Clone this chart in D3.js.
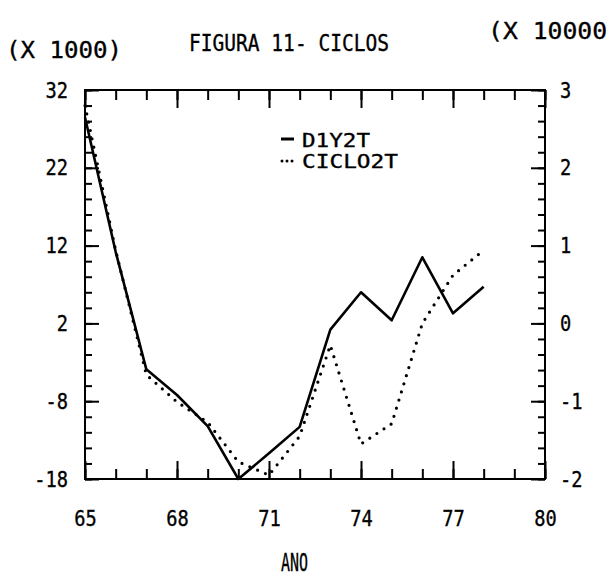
<!DOCTYPE html>
<html>
<head>
<meta charset="utf-8">
<script src="https://cdn.jsdelivr.net/npm/d3@7"></script>
<style>
  html, body { margin: 0; padding: 0; background: #fff; }
  svg { display: block; }
  text { font-family: "DejaVu Sans Mono", "Liberation Mono", monospace; fill: #000; stroke: #000; stroke-width: 0.35px; }
</style>
</head>
<body>
<script>
// ---- data ----
const years = [65, 66, 67, 68, 69, 70, 71, 72, 73, 74, 75, 76, 77, 78];
const d1y2t = [28.5, 11.2, -3.9, -7.2, -11.2, -18.0, -14.7, -11.3, 1.2, 6.0, 2.4, 10.5, 3.3, 6.7];   // left axis (x 1000)
const ciclo2t = [2.8, 0.94, -0.66, -1.01, -1.27, -1.78, -1.95, -1.45, -0.28, -1.55, -1.29, 0.0, 0.62, 0.94]; // right axis (x 10000)
const xTickLabels = [65, 68, 71, 74, 77, 80];
const leftTickLabels = [32, 22, 12, 2, -8, -18];
const rightTickLabels = [3, 2, 1, 0, -1, -2];
const seriesNames = ["D1Y2T", "CICLO2T"];
const title = "FIGURA 11- CICLOS";
const xTitle = "ANO";
const leftUnit = "(X 1000)";
const rightUnit = "(X 10000)";

// ---- layout ----
const W = 609, H = 578;
const L = 85, R = 545, T = 90, B = 479;

const svg = d3.select("body").append("svg").attr("width", W).attr("height", H);

const x = d3.scaleLinear().domain([65, 80]).range([L, R]);
const yL = d3.scaleLinear().domain([-18, 32]).range([B, T]);
const yR = d3.scaleLinear().domain([-2, 3]).range([B, T]);

const tickFont = 22;
const fmt = d => d < 0 ? "-" + Math.abs(d) : String(d);

function condense(sel, factor) {
  sel.each(function () {
    const len = this.getComputedTextLength();
    d3.select(this).attr("textLength", len * factor).attr("lengthAdjust", "spacingAndGlyphs");
  });
}

const minorYears = d3.range(65, 81, 1);
const minorLeft = d3.range(-18, 33, 2);
const minorRight = d3.range(-2, 3.01, 0.2);

function styleAxis(g) {
  g.select(".domain").remove();
  g.selectAll(".tick line").attr("stroke", "#000").attr("stroke-width", 2);
}

// minor ticks
svg.append("g").attr("transform", `translate(0,${B})`)
  .call(d3.axisBottom(x).tickValues(minorYears).tickSize(-10).tickFormat(""))
  .call(styleAxis);
svg.append("g").attr("transform", `translate(0,${T})`)
  .call(d3.axisTop(x).tickValues(minorYears).tickSize(-10).tickFormat(""))
  .call(styleAxis);
svg.append("g").attr("transform", `translate(${L},0)`)
  .call(d3.axisLeft(yL).tickValues(minorLeft).tickSize(-7).tickFormat(""))
  .call(styleAxis);
svg.append("g").attr("transform", `translate(${R},0)`)
  .call(d3.axisRight(yR).tickValues(minorRight).tickSize(-7).tickFormat(""))
  .call(styleAxis);

// major ticks + labels
const gxB = svg.append("g").attr("transform", `translate(0,${B})`)
  .call(d3.axisBottom(x).tickValues(xTickLabels).tickSize(-18).tickPadding(31).tickFormat(d3.format("d")))
  .call(styleAxis);
svg.append("g").attr("transform", `translate(0,${T})`)
  .call(d3.axisTop(x).tickValues(xTickLabels).tickSize(-18).tickFormat(""))
  .call(styleAxis);
const gyL = svg.append("g").attr("transform", `translate(${L},0)`)
  .call(d3.axisLeft(yL).tickValues(leftTickLabels).tickSize(-14).tickPadding(17).tickFormat(fmt))
  .call(styleAxis);
const gyR = svg.append("g").attr("transform", `translate(${R},0)`)
  .call(d3.axisRight(yR).tickValues(rightTickLabels).tickSize(-14).tickPadding(15).tickFormat(fmt))
  .call(styleAxis);

[gxB, gyL, gyR].forEach(g => {
  g.attr("font-family", null).attr("font-size", null);
  g.selectAll("text").style("font-size", tickFont + "px").style("fill", "#000");
  condense(g.selectAll("text"), 0.85);
});

// frame
svg.append("rect").attr("x", L).attr("y", T).attr("width", R - L).attr("height", B - T)
  .attr("fill", "none").attr("stroke", "#000").attr("stroke-width", 2);

// series
const data = years.map((yr, i) => ({ yr, a: d1y2t[i], b: ciclo2t[i] }));

svg.append("path").datum(data)
  .attr("fill", "none").attr("stroke", "#000").attr("stroke-width", 2.6).attr("stroke-linejoin", "round")
  .attr("d", d3.line().x(d => x(d.yr)).y(d => yL(d.a)));

svg.append("path").datum(data)
  .attr("fill", "none").attr("stroke", "#000").attr("stroke-width", 3.2)
  .attr("stroke-linecap", "round").attr("stroke-dasharray", "0 8.5")
  .attr("d", d3.line().x(d => x(d.yr)).y(d => yR(d.b)));

// legend
svg.append("line").attr("x1", 281).attr("x2", 294).attr("y1", 139).attr("y2", 139)
  .attr("stroke", "#000").attr("stroke-width", 3);
svg.append("line").attr("x1", 282).attr("x2", 296).attr("y1", 161).attr("y2", 161)
  .attr("stroke", "#000").attr("stroke-width", 3).attr("stroke-linecap", "round").attr("stroke-dasharray", "0 5");
svg.append("text").attr("x", 302).attr("y", 147).style("font-size", "19px").text(seriesNames[0])
  .attr("textLength", 68).attr("lengthAdjust", "spacingAndGlyphs");
svg.append("text").attr("x", 302).attr("y", 168).style("font-size", "19px").text(seriesNames[1])
  .attr("textLength", 96).attr("lengthAdjust", "spacingAndGlyphs");

// titles
svg.append("text").attr("x", 189).attr("y", 51).style("font-size", "23px").text(title)
  .attr("textLength", 200).attr("lengthAdjust", "spacingAndGlyphs");
svg.append("text").attr("x", 6).attr("y", 58).style("font-size", "23px").text(leftUnit)
  .attr("textLength", 116).attr("lengthAdjust", "spacingAndGlyphs");
svg.append("text").attr("x", 488).attr("y", 39).style("font-size", "23px").text(rightUnit)
  .attr("textLength", 134).attr("lengthAdjust", "spacingAndGlyphs");
svg.append("text").attr("x", 281).attr("y", 571).style("font-size", "24px").text(xTitle)
  .attr("textLength", 27).attr("lengthAdjust", "spacingAndGlyphs");
</script>
</body>
</html>
